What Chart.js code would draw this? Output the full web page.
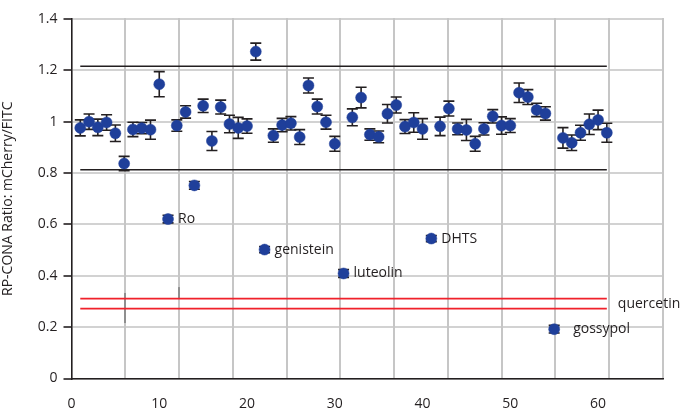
<!DOCTYPE html>
<html>
<head>
<meta charset="utf-8">
<script src="https://cdn.jsdelivr.net/npm/chart.js@4/dist/chart.umd.min.js"></script>
<style>
  html, body { margin: 0; padding: 0; background: #fff; }
  #wrap { width: 686px; height: 410px; }
</style>
</head>
<body>
<div id="wrap"><canvas id="c" width="686" height="410"></canvas></div>
<script>
// ---- data ----
const wellIds = [1,2,3,4,5,6,7,8,9,10,11,12,13,14,15,16,17,18,19,20,21,22,23,24,25,26,27,28,29,30,31,32,33,34,35,36,37,38,39,40,41,42,43,44,45,46,47,48,49,50,51,52,53,54,55,56,57,58,59,60,61];
const ratios = [0.976,1.000,0.978,0.997,0.955,0.837,0.970,0.975,0.969,1.146,
                0.621,0.985,1.038,0.752,1.062,0.925,1.057,0.991,0.976,0.983,
                1.273,0.502,0.946,0.987,0.994,0.940,1.141,1.059,0.998,0.914,
                0.409,1.017,1.094,0.950,0.941,1.031,1.065,0.981,0.997,0.972,
                0.545,0.982,1.051,0.972,0.968,0.914,0.972,1.021,0.985,0.985,
                1.113,1.096,1.046,1.032,0.192,0.937,0.918,0.957,0.990,1.007,
                0.957];
const errors = [0.031,0.030,0.032,0.030,0.032,0.028,0.028,0.022,0.037,0.049,
                0.015,0.022,0.024,0.015,0.026,0.037,0.027,0.034,0.041,0.028,
                0.033,0.012,0.026,0.026,0.026,0.029,0.029,0.029,0.027,0.029,
                0.015,0.033,0.040,0.022,0.023,0.036,0.031,0.027,0.038,0.040,
                0.012,0.036,0.029,0.023,0.041,0.029,0.024,0.026,0.034,0.027,
                0.038,0.029,0.026,0.026,0.015,0.040,0.030,0.029,0.040,0.038,
                0.037];
const hitWells  = [11, 22, 31, 41, 55];
const hitLabels = ['Ro', 'genistein', 'luteolin', 'DHTS', 'gossypol'];
const lineSpan = [1, 61];
const upperLimit = 1.216;
const lowerLimit = 0.813;
const quercetinBand = [0.311, 0.272];
const quercetinLabel = 'quercetin';
const xTicks = [0, 10, 20, 30, 40, 50, 60];
const yTicks = [0, 0.2, 0.4, 0.6, 0.8, 1.0, 1.2, 1.4];
const yTitle = 'RP-CONA Ratio: mCherry/FITC';

// ---- styling ----
const FONT = '"Open Sans", "DejaVu Sans", sans-serif';
const INK = '#231f20';
const GRID = '#d2d2d2';
const VGRID = '#c6c6c6';
const DOT = '#1f3f9a';
const RED = '#f0212b';
const X_MAX = 67.4;
const GRID_COLUMNS = 11;

const points = wellIds.map((w, i) => ({ x: w, y: ratios[i] }));
const hline = (v) => lineSpan.map(x => ({ x: x, y: v }));

const errorBarPlugin = {
  id: 'errorBars',
  beforeDatasetsDraw(chart) {
    const ctx = chart.ctx;
    const xs = chart.scales.x, ys = chart.scales.y;
    const a = chart.chartArea;
    const colW = (a.right - a.left) / GRID_COLUMNS;
    ctx.save();
    // vertical column grid of the original (not tied to the x ticks)
    ctx.fillStyle = VGRID;
    for (let k = 1; k <= GRID_COLUMNS; k++) {
      const gx = Math.round(a.left + k * colW);
      ctx.fillRect(gx - 1, Math.round(a.top) - 1, 2, Math.round(a.bottom - a.top));
    }
    // faint darker marks on the grid seen in the original
    ctx.fillStyle = '#8f8f8f';
    [[1, 0.216, 0.333], [2, 0.313, 0.356]].forEach(([k, lo, hi]) => {
      const gx = Math.round(a.left + k * colW);
      const y1 = ys.getPixelForValue(hi), y2 = ys.getPixelForValue(lo);
      ctx.fillRect(gx - 1, y1, 2, y2 - y1);
    });
    // error bars
    ctx.strokeStyle = INK;
    ctx.lineWidth = 1.6;
    const cap = 5.5;
    wellIds.forEach((w, i) => {
      const px = xs.getPixelForValue(w);
      const top = ys.getPixelForValue(ratios[i] + errors[i]);
      const bot = ys.getPixelForValue(ratios[i] - errors[i]);
      ctx.beginPath();
      ctx.moveTo(px, top); ctx.lineTo(px, bot);
      ctx.moveTo(px - cap, top); ctx.lineTo(px + cap, top);
      ctx.moveTo(px - cap, bot); ctx.lineTo(px + cap, bot);
      ctx.stroke();
    });
    ctx.restore();
  },
  afterDatasetsDraw(chart) {
    const ctx = chart.ctx;
    const xs = chart.scales.x, ys = chart.scales.y;
    ctx.save();
    ctx.fillStyle = INK;
    ctx.font = '14px ' + FONT;
    ctx.textBaseline = 'middle';
    ctx.textAlign = 'left';
    hitWells.forEach((w, k) => {
      const i = wellIds.indexOf(w);
      const px = xs.getPixelForValue(w);
      const py = ys.getPixelForValue(ratios[i]);
      const off = hitLabels[k] === 'gossypol' ? 19 : 10;
      ctx.fillText(hitLabels[k], px + off, py);
    });
    const qy = ys.getPixelForValue((quercetinBand[0] + quercetinBand[1]) / 2);
    const qx = xs.getPixelForValue(lineSpan[1]) + 11;
    ctx.fillText(quercetinLabel, qx, qy);
    ctx.restore();
  }
};

new Chart(document.getElementById('c'), {
  type: 'scatter',
  data: {
    datasets: [
      { data: hline(upperLimit), type: 'line', showLine: true, borderColor: INK, borderWidth: 1.6, pointRadius: 0, fill: false, order: 3 },
      { data: hline(lowerLimit), type: 'line', showLine: true, borderColor: INK, borderWidth: 1.6, pointRadius: 0, fill: false, order: 3 },
      { data: hline(quercetinBand[0]), type: 'line', showLine: true, borderColor: RED, borderWidth: 1.6, pointRadius: 0, fill: false, order: 3 },
      { data: hline(quercetinBand[1]), type: 'line', showLine: true, borderColor: RED, borderWidth: 1.6, pointRadius: 0, fill: false, order: 3 },
      { data: points, pointRadius: 5.5, pointBackgroundColor: DOT, pointBorderColor: DOT, pointBorderWidth: 0.5, order: 1 }
    ]
  },
  options: {
    responsive: false,
    animation: false,
    devicePixelRatio: 1,
    layout: { padding: { left: 0, right: 23, top: 19, bottom: 0 } },
    plugins: { legend: { display: false }, tooltip: { enabled: false } },
    scales: {
      x: {
        type: 'linear', position: 'bottom',
        min: 0, max: X_MAX,
        afterFit(s) { s.height = 31.5; },
        afterBuildTicks(s) { s.ticks = xTicks.map(v => ({ value: v })); },
        grid: { display: false, drawTicks: false },
        border: { display: true, color: INK, width: 1.6 },
        ticks: { color: INK, padding: 17, font: { family: FONT, size: 14 }, maxRotation: 0, autoSkip: false }
      },
      y: {
        type: 'linear', position: 'left',
        min: 0, max: 1.4,
        afterFit(s) { s.width = 71.5; },
        afterBuildTicks(s) { s.ticks = yTicks.map(v => ({ value: v })); },
        grid: { color: GRID, lineWidth: 2, tickColor: INK, tickLength: 8, tickWidth: 1.6 },
        border: { display: true, color: INK, width: 1.6 },
        ticks: {
          color: INK, padding: 6, font: { family: FONT, size: 14 },
          callback: (v) => String(Math.round(v * 10) / 10)
        },
        title: {
          display: true, text: yTitle, color: INK,
          font: { family: FONT, size: 14 }, padding: { top: 0, bottom: 0 }
        }
      }
    }
  },
  plugins: [errorBarPlugin]
});
</script>
</body>
</html>
